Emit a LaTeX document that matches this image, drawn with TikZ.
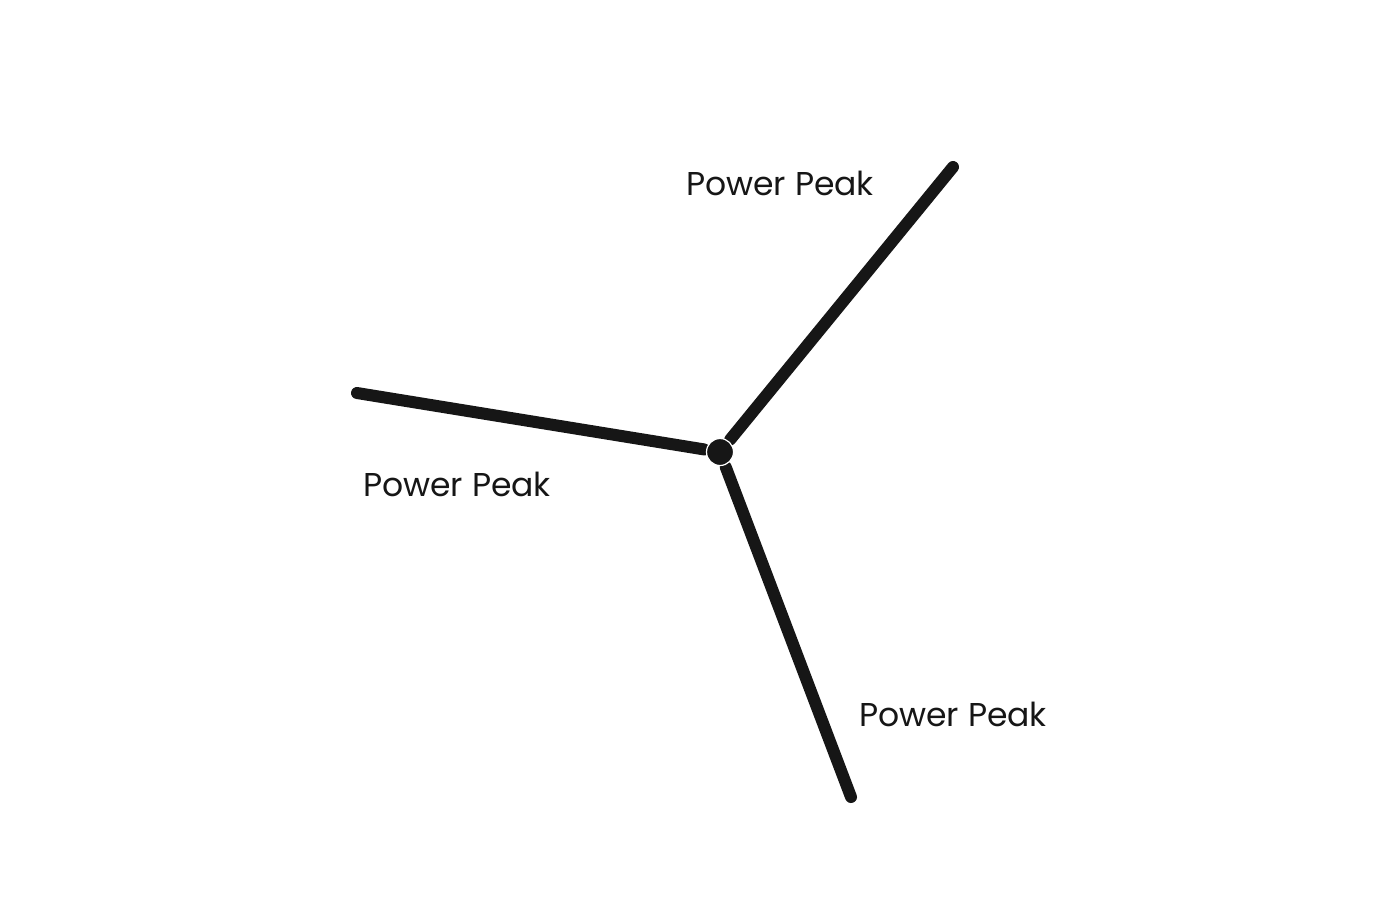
\documentclass[tikz,border=0pt]{standalone}
\usepackage{fontspec}
\setsansfont{Poppins}
\usetikzlibrary{positioning}
\definecolor{armcol}{RGB}{22,22,22}

\begin{document}
\begin{tikzpicture}[
  x=0.5pt, y=-0.5pt,
  every node/.style={font=\sffamily},
  peaklabel/.style={font=\sffamily\fontsize{16.5}{18}\selectfont, text=armcol, inner sep=0pt},
  hubdot/.style={circle, fill=armcol, draw=white, line width=0.6pt, minimum size=13.5pt, inner sep=0pt},
  arm/.style={draw=armcol, line width=6pt, line cap=round, shorten <=1pt}
]
\useasboundingbox (0,0) rectangle (1400,905);

\node[hubdot] (hub) at (720, 452) {};
\coordinate (tipa) at (953, 167);
\coordinate (tipb) at (357, 393);
\coordinate (tipc) at (851, 797);

\draw[arm] (hub) -- (tipa);
\draw[arm] (hub) -- (tipb);
\draw[arm] (hub) -- (tipc);
\node[hubdot] at (hub) {};

\node[peaklabel] (peaka) at (780, 183) {Power Peak};
\node[peaklabel] (peakb) at (457, 484) {Power Peak};
\node[peaklabel] (peakc) at (953, 714) {Power Peak};

\end{tikzpicture}
\end{document}
